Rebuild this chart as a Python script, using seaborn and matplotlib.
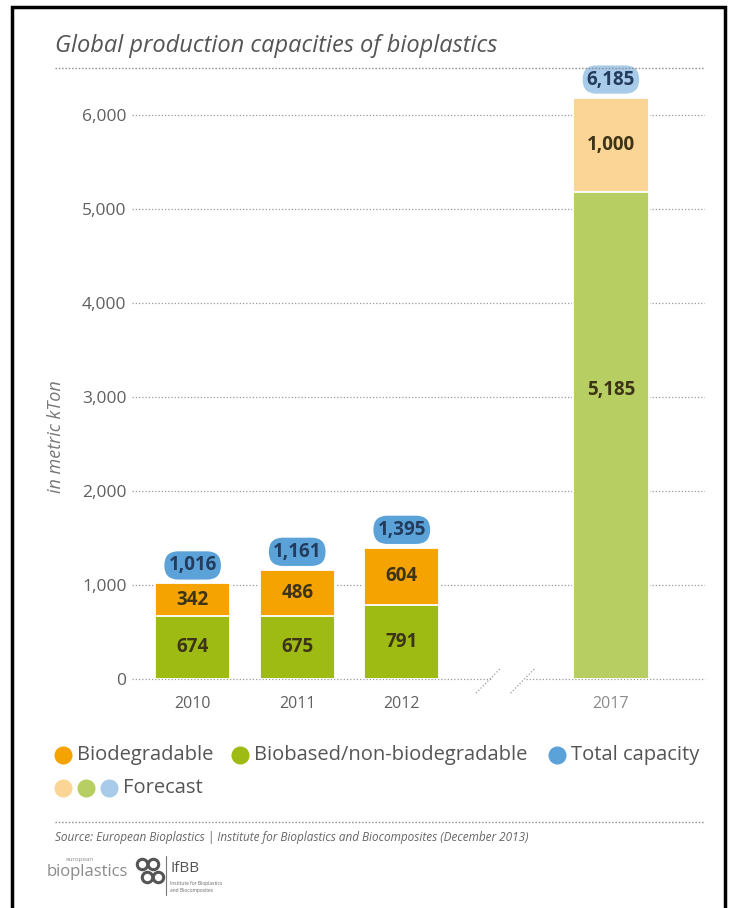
import matplotlib
matplotlib.use("Agg")
import matplotlib.pyplot as plt
import seaborn as sns
import pandas as pd
from matplotlib.patches import Rectangle
from matplotlib.lines import Line2D

# ---- data ----
years = ["2010", "2011", "2012", "2017"]
biodegradable = [342, 486, 604, 1000]
biobased = [674, 675, 791, 5185]
total = [1016, 1161, 1395, 6185]
is_forecast = [False, False, False, True]
slot_order = ["2010", "2011", "2012", " ", "2017"]
yticks = [0, 1000, 2000, 3000, 4000, 5000, 6000]
ytick_labels = ["0", "1,000", "2,000", "3,000", "4,000", "5,000", "6,000"]

ORANGE, ORANGE_L = "#F4A300", "#FBD595"
GREEN, GREEN_L = "#9DBB12", "#B7CF62"
BLUE, BLUE_L = "#5AA2D8", "#A9CBEA"

sns.set_theme(style="white")
plt.rcParams["font.family"] = ["Open Sans", "DejaVu Sans"]

W, H = 731, 908
fig = plt.figure(figsize=(W / 100, H / 100), dpi=100)
fig.patch.set_facecolor("white")

y0_px, px_per_unit = 679, 0.094
ymax = 6400
ax = fig.add_axes([132 / W, (H - y0_px) / H, (705 - 132) / W, ymax * px_per_unit / H])

df = pd.DataFrame({"year": years, "total": total, "biobased": biobased,
                   "biodegradable": biodegradable})
top_pal = {y: (ORANGE_L if f else ORANGE) for y, f in zip(years, is_forecast)}
bot_pal = {y: (GREEN_L if f else GREEN) for y, f in zip(years, is_forecast)}

common = dict(data=df, x="year", hue="year", order=slot_order, dodge=False,
              width=0.72, edgecolor="white", linewidth=1.3, legend=False,
              saturation=1, ax=ax, zorder=3)
sns.barplot(y="total", palette=top_pal, **common)
sns.barplot(y="biobased", palette=bot_pal, **common)

xmin, xmax = -0.58, 4.9
ax.set_xlim(xmin, xmax)
ax.set_ylim(0, ymax)

# dotted gridlines
dot = dict(color="#9a9a9a", linestyle=(0, (1, 1.6)), linewidth=0.9, zorder=1)
ax.hlines(yticks[1:], xmin, xmax, **dot)
ax.hlines(0, xmin, 2.86, clip_on=False, **dot)
ax.hlines(0, 3.19, xmax, clip_on=False, **dot)
for bx in (2.83, 3.16):
    ax.plot([bx - 0.12, bx + 0.12], [-150, 120], clip_on=False, **dot)

for s in ax.spines.values():
    s.set_visible(False)
ax.set_yticks(yticks)
ax.set_yticklabels(ytick_labels)
ax.tick_params(axis="y", length=0, pad=4, labelsize=12.5, labelcolor="#606060")
ax.tick_params(axis="x", length=0, pad=12, labelsize=11.5, labelcolor="#606060")
ax.set_xlabel("")
ax.set_ylabel("")
for lbl in ax.get_xticklabels():
    if lbl.get_text() == "2017":
        lbl.set_color("#8a8a8a")

# value labels
pos = {y: slot_order.index(y) for y in years}
for y, g, o, t, f in zip(years, biobased, biodegradable, total, is_forecast):
    x = pos[y]
    gy = g * (0.593 if g > 3000 else 0.5)
    ax.text(x, gy, f"{g:,}", ha="center", va="center", fontsize=13.5,
            fontweight="bold", color="#3d3417", zorder=5)
    ax.text(x, g + o / 2, f"{o:,}", ha="center", va="center", fontsize=13.5,
            fontweight="bold", color="#3d3417", zorder=5)
    ax.annotate(f"{t:,}", (x, t), xytext=(0, 13), textcoords="offset points",
                ha="center", va="center", fontsize=13.5, fontweight="bold",
                color="#233c5e", zorder=6,
                bbox=dict(boxstyle="round,pad=0.22,rounding_size=0.75",
                          fc=(BLUE_L if f else BLUE), ec="none"))

# y label
fig.text(56 / W, (H - 437) / H, "in metric kTon", rotation=90, ha="center",
         va="center", fontsize=13, style="italic", color="#777777")

# title and separators
fig.text(55 / W, (H - 46) / H, "Global production capacities of bioplastics",
         fontsize=17, style="italic", color="#555555", ha="left", va="center")
sep = dict(color="#8a8a8a", linestyle=(0, (1, 1.4)), linewidth=1.0,
           transform=fig.transFigure)
fig.add_artist(Line2D([55 / W, 705 / W], [(H - 68) / H] * 2, **sep))
fig.add_artist(Line2D([55 / W, 705 / W], [(H - 822) / H] * 2, **sep))

# legend
def dot_at(xp, yp, c):
    fig.add_artist(Line2D([xp / W], [(H - yp) / H], marker="o", markersize=12,
                          color=c, linestyle="none", transform=fig.transFigure))

leg_row1 = [("Biodegradable", ORANGE, 63), ("Biobased/non-biodegradable", GREEN, 240),
            ("Total capacity", BLUE, 557)]
for name, c, xp in leg_row1:
    dot_at(xp, 755, c)
    fig.text((xp + 14) / W, (H - 755) / H, name, fontsize=14.5, color="#555555",
             ha="left", va="center")
for c, xp in zip([ORANGE_L, GREEN_L, BLUE_L], [63, 86, 109]):
    dot_at(xp, 788, c)
fig.text(123 / W, (H - 788) / H, "Forecast", fontsize=14.5, color="#555555",
         ha="left", va="center")

fig.text(55 / W, (H - 838) / H,
         "Source: European Bioplastics | Institute for Bioplastics and Biocomposites (December 2013)",
         fontsize=8.5, style="italic", color="#666666", ha="left", va="center")

# logos (text approximations)
fig.text(47 / W, (H - 872) / H, "bioplastics", fontsize=12, color="#8a8a8a",
         ha="left", va="center")
fig.text(66 / W, (H - 859) / H, "european", fontsize=4.5, color="#8a8a8a",
         ha="left", va="center")
for (xp, yp) in [(142, 864), (153, 864), (147, 877), (158, 877)]:
    fig.add_artist(Line2D([xp / W], [(H - yp) / H], marker="o", markersize=7.5,
                          markerfacecolor="none", markeredgecolor="#555555",
                          markeredgewidth=2.2, linestyle="none",
                          transform=fig.transFigure))
fig.add_artist(Line2D([166 / W, 166 / W], [(H - 856) / H, (H - 895) / H],
                      color="#777777", linewidth=0.8, transform=fig.transFigure))
fig.text(170 / W, (H - 869) / H, "IfBB", fontsize=11, color="#555555",
         ha="left", va="center")
fig.text(170 / W, (H - 887) / H, "Institute for Bioplastics\nand Biocomposites",
         fontsize=3.5, color="#666666", ha="left", va="center", linespacing=1.3)

# frame
fig.add_artist(Rectangle((12 / W, -0.01), (725 - 12) / W, (H - 7) / H + 0.01,
                         fill=False, edgecolor="black", linewidth=2.5,
                         transform=fig.transFigure))

fig.savefig("out.png", dpi=100, facecolor="white")
